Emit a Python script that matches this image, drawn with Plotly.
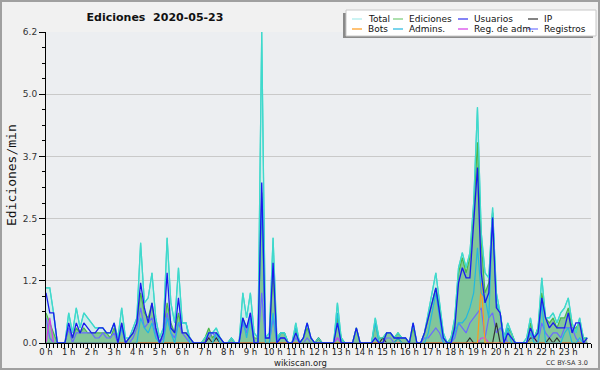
import plotly.graph_objects as go

# ---------------- data (10-minute slots, edits per minute) ----------------
slot_hours = [i / 6 for i in range(144)]

total = [
    1.1, 1.1, 0.6, 0.0, 0.0, 0.0,
    0.6, 0.2, 0.7, 0.3, 0.6, 0.5,
    0.4, 0.3, 0.3, 0.3, 0.2, 0.2,
    0.4, 0.1, 0.7, 0.1, 0.1, 0.3,
    0.5, 2.0, 0.8, 0.9, 1.4, 0.5,
    0.1, 0.3, 2.1, 0.8, 0.4, 1.5,
    0.4, 0.4, 0.1, 0.0, 0.0, 0.0,
    0.1, 0.2, 0.2, 0.3, 0.1, 0.0,
    0.0, 0.1, 0.0, 0.0, 1.0, 0.5,
    1.0, 0.2, 0.1, 6.2, 0.1, 0.2,
    2.1, 0.1, 0.2, 0.2, 0.0, 0.0,
    0.4, 0.0, 0.1, 0.4, 0.1, 0.0,
    0.1, 0.0, 0.0, 0.0, 0.0, 0.8,
    0.1, 0.0, 0.0, 0.0, 0.3, 0.0,
    0.0, 0.0, 0.0, 0.5, 0.1, 0.1,
    0.2, 0.2, 0.1, 0.2, 0.1, 0.1,
    0.0, 0.4, 0.0, 0.0, 0.2, 0.6,
    1.0, 1.4, 0.8, 0.2, 0.0, 0.1,
    0.5, 1.5, 1.8, 1.5, 1.8, 2.8,
    4.7, 2.2, 1.4, 1.3, 2.7, 1.0,
    0.6, 0.1, 0.4, 0.2, 0.0, 0.0,
    0.0, 0.1, 0.5, 0.1, 0.3, 1.3,
    0.5, 0.5, 0.6, 0.4, 0.6, 0.7,
    0.9, 0.4, 0.2, 0.5, 0.1, 0.1,
]

ediciones = [
    0.6, 0.4, 0.2, 0.0, 0.0, 0.0,
    0.3, 0.1, 0.3, 0.2, 0.3, 0.2,
    0.2, 0.2, 0.2, 0.2, 0.2, 0.1,
    0.3, 0.0, 0.4, 0.0, 0.1, 0.2,
    0.4, 1.0, 0.6, 0.5, 0.8, 0.3,
    0.0, 0.2, 0.8, 0.4, 0.2, 0.6,
    0.2, 0.2, 0.1, 0.0, 0.0, 0.0,
    0.1, 0.3, 0.1, 0.2, 0.1, 0.0,
    0.0, 0.1, 0.0, 0.0, 0.5, 0.3,
    0.5, 0.1, 0.1, 3.0, 0.1, 0.1,
    1.4, 0.1, 0.2, 0.2, 0.0, 0.0,
    0.3, 0.0, 0.1, 0.3, 0.1, 0.0,
    0.1, 0.0, 0.0, 0.0, 0.0, 0.5,
    0.1, 0.0, 0.0, 0.0, 0.3, 0.0,
    0.0, 0.0, 0.0, 0.4, 0.1, 0.1,
    0.2, 0.2, 0.1, 0.2, 0.1, 0.1,
    0.0, 0.3, 0.0, 0.0, 0.2, 0.5,
    0.8, 1.1, 0.7, 0.1, 0.0, 0.1,
    0.4, 1.4, 1.7, 1.4, 1.7, 2.6,
    4.0, 2.0, 1.0, 1.2, 2.6, 0.8,
    0.6, 0.1, 0.3, 0.2, 0.0, 0.0,
    0.0, 0.0, 0.4, 0.1, 0.3, 1.0,
    0.5, 0.4, 0.5, 0.3, 0.5, 0.5,
    0.7, 0.3, 0.3, 0.4, 0.1, 0.1,
]

usuarios = [
    1.0, 0.6, 0.6, 0.0, 0.0, 0.0,
    0.4, 0.1, 0.4, 0.2, 0.4, 0.3,
    0.2, 0.2, 0.3, 0.3, 0.2, 0.2,
    0.4, 0.0, 0.4, 0.0, 0.1, 0.2,
    0.4, 1.2, 0.7, 0.4, 0.8, 0.3,
    0.0, 0.2, 1.4, 0.3, 0.2, 0.9,
    0.2, 0.2, 0.1, 0.0, 0.0, 0.0,
    0.0, 0.2, 0.2, 0.2, 0.1, 0.0,
    0.0, 0.0, 0.0, 0.0, 0.5, 0.3,
    0.6, 0.0, 0.0, 3.2, 0.1, 0.1,
    1.6, 0.0, 0.1, 0.1, 0.0, 0.0,
    0.2, 0.0, 0.1, 0.4, 0.1, 0.0,
    0.0, 0.0, 0.0, 0.0, 0.0, 0.4,
    0.0, 0.0, 0.0, 0.0, 0.3, 0.0,
    0.0, 0.0, 0.0, 0.1, 0.0, 0.0,
    0.2, 0.2, 0.1, 0.1, 0.1, 0.1,
    0.0, 0.4, 0.0, 0.0, 0.2, 0.5,
    0.8, 1.1, 0.6, 0.1, 0.0, 0.0,
    0.3, 1.2, 1.5, 1.3, 1.3, 2.4,
    3.5, 1.4, 0.8, 1.0, 2.5, 0.7,
    0.6, 0.0, 0.2, 0.1, 0.0, 0.0,
    0.0, 0.0, 0.3, 0.1, 0.2, 0.9,
    0.5, 0.3, 0.4, 0.3, 0.3, 0.3,
    0.6, 0.2, 0.4, 0.4, 0.0, 0.1,
]

admins = [
    0.0, 0.0, 0.0, 0.0, 0.0, 0.0,
    0.0, 0.0, 0.0, 0.0, 0.0, 0.0,
    0.0, 0.0, 0.0, 0.0, 0.0, 0.0,
    0.0, 0.0, 0.3, 0.0, 0.0, 0.0,
    0.0, 0.5, 0.3, 0.2, 0.4, 0.1,
    0.0, 0.0, 0.5, 0.2, 0.0, 0.4,
    0.4, 0.4, 0.0, 0.0, 0.0, 0.0,
    0.0, 0.0, 0.0, 0.2, 0.0, 0.0,
    0.0, 0.1, 0.0, 0.0, 0.5, 0.1,
    0.5, 0.0, 0.0, 2.9, 0.0, 0.0,
    0.6, 0.0, 0.2, 0.2, 0.0, 0.0,
    0.3, 0.0, 0.0, 0.0, 0.0, 0.0,
    0.0, 0.0, 0.0, 0.0, 0.0, 0.6,
    0.0, 0.0, 0.0, 0.0, 0.0, 0.0,
    0.0, 0.0, 0.0, 0.4, 0.0, 0.0,
    0.0, 0.0, 0.0, 0.1, 0.0, 0.0,
    0.0, 0.0, 0.0, 0.0, 0.0, 0.2,
    0.6, 1.0, 0.5, 0.0, 0.0, 0.0,
    0.2, 0.4, 0.4, 0.5, 0.7, 1.0,
    1.9, 1.0, 0.9, 0.5, 2.6, 0.8,
    0.6, 0.0, 0.3, 0.0, 0.0, 0.0,
    0.0, 0.0, 0.2, 0.0, 0.0, 0.8,
    0.0, 0.0, 0.0, 0.0, 0.0, 0.2,
    0.3, 0.0, 0.0, 0.1, 0.0, 0.0,
]

registros = [
    0.5, 0.1, 0.0, 0.0, 0.0, 0.0,
    0.3, 0.0, 0.2, 0.2, 0.2, 0.2,
    0.2, 0.1, 0.1, 0.2, 0.1, 0.1,
    0.2, 0.0, 0.3, 0.0, 0.0, 0.1,
    0.3, 0.7, 0.3, 0.4, 0.5, 0.2,
    0.0, 0.1, 0.6, 0.2, 0.1, 0.4,
    0.2, 0.1, 0.0, 0.0, 0.0, 0.0,
    0.0, 0.1, 0.2, 0.1, 0.0, 0.0,
    0.0, 0.0, 0.0, 0.0, 0.4, 0.2,
    0.6, 0.0, 0.0, 1.0, 0.0, 0.0,
    0.5, 0.0, 0.1, 0.1, 0.0, 0.0,
    0.1, 0.0, 0.0, 0.1, 0.0, 0.0,
    0.0, 0.0, 0.0, 0.0, 0.0, 0.1,
    0.0, 0.0, 0.0, 0.0, 0.0, 0.0,
    0.0, 0.0, 0.0, 0.1, 0.0, 0.0,
    0.1, 0.1, 0.0, 0.0, 0.0, 0.0,
    0.0, 0.0, 0.0, 0.0, 0.1, 0.1,
    0.2, 0.3, 0.2, 0.0, 0.0, 0.0,
    0.1, 0.4, 0.3, 0.2, 0.4, 0.5,
    0.6, 0.7, 0.1, 0.5, 0.6, 0.2,
    0.3, 0.2, 0.0, 0.0, 0.0, 0.0,
    0.0, 0.0, 0.2, 0.1, 0.0, 0.4,
    0.2, 0.1, 0.2, 0.2, 0.1, 0.3,
    0.3, 0.3, 0.1, 0.0, 0.0, 0.0,
]

ip = [0.0] * 144
for k, v in {43: 0.1, 45: 0.1, 72: 0.1, 89: 0.1, 93: 0.1, 112: 0.1,
             119: 0.4, 128: 0.1, 129: 0.1, 133: 0.1, 135: 0.1}.items():
    ip[k] = v

bots = [0.0] * 144
for k, v in {115: 1.2}.items():
    bots[k] = v

reg_adm = [0.0] * 144
for k, v in {1: 0.5, 77: 0.1, 115: 0.1, 116: 0.1, 128: 0.1, 129: 0.1}.items():
    reg_adm[k] = v

hour_labels = [f"{h} h" for h in range(24)]
y_tick_values = [0, 1.24, 2.48, 3.72, 4.96, 6.2]
y_tick_labels = ["0.0", "1.2", "2.5", "3.7", "5.0", "6.2"]

# ---------------- figure ----------------
W, H = 600, 370
L, R, T, B = 46, 9, 32, 27
PW, PH = W - L - R, H - T - B


def fx(px):
    return (px - L) / PW


def fy(py):
    return (H - B - py) / PH


C_TOTAL = "#3fd9cc"
C_EDIC = "#4cb84c"
C_USU = "#1a1aee"
C_IP = "#333333"
C_BOTS = "#ff9a1a"
C_ADM = "#22b8e0"
C_REGADM = "#d63ce8"
C_REG = "#6a6aff"

fig = go.Figure()
fig.add_trace(go.Scatter(x=slot_hours, y=total, name="Total", mode="lines",
                         line=dict(color=C_TOTAL, width=1.2), fill="tozeroy",
                         fillcolor="rgba(64,224,208,0.16)", showlegend=False))
fig.add_trace(go.Scatter(x=slot_hours, y=ediciones, name="Ediciones", mode="lines",
                         line=dict(color=C_EDIC, width=1.2), fill="tozeroy",
                         fillcolor="rgba(60,165,80,0.52)", showlegend=False))
fig.add_trace(go.Scatter(x=slot_hours, y=registros, name="Registros", mode="lines",
                         line=dict(color=C_REG, width=1.2), showlegend=False))
fig.add_trace(go.Scatter(x=slot_hours, y=reg_adm, name="Reg. de adm.", mode="lines",
                         line=dict(color=C_REGADM, width=1.2), showlegend=False))
fig.add_trace(go.Scatter(x=slot_hours, y=ip, name="IP", mode="lines",
                         line=dict(color=C_IP, width=1.2), showlegend=False))
fig.add_trace(go.Scatter(x=slot_hours, y=bots, name="Bots", mode="lines",
                         line=dict(color=C_BOTS, width=1.2), showlegend=False))
fig.add_trace(go.Scatter(x=slot_hours, y=admins, name="Admins.", mode="lines",
                         line=dict(color=C_ADM, width=1.2), showlegend=False))
fig.add_trace(go.Scatter(x=slot_hours, y=total, name="Total", mode="lines",
                         line=dict(color=C_TOTAL, width=1.2), showlegend=False,
                         hoverinfo="skip"))
fig.add_trace(go.Scatter(x=slot_hours, y=usuarios, name="Usuarios", mode="lines",
                         line=dict(color=C_USU, width=1.3), showlegend=False))

shapes = []
annotations = []

# outer frame
shapes.append(dict(type="rect", xref="paper", yref="paper",
                   x0=fx(1), x1=fx(599), y0=fy(369), y1=fy(1),
                   line=dict(color="#a0a0a0", width=2), layer="below"))

# legend box with shadow
shapes.append(dict(type="rect", xref="paper", yref="paper",
                   x0=fx(343), x1=fx(593), y0=fy(38), y1=fy(13),
                   line=dict(width=0), fillcolor="#8a8a8a"))
shapes.append(dict(type="rect", xref="paper", yref="paper",
                   x0=fx(346), x1=fx(596), y0=fy(36), y1=fy(10),
                   line=dict(color="#c8c8c8", width=1), fillcolor="white"))

legend_items = [
    ("Total", "#a8ecec", 352, 19), ("Ediciones", "#77cc77", 393, 19),
    ("Usuarios", "#3333ee", 458, 19), ("IP", "#333333", 528, 19),
    ("Bots", C_BOTS, 352, 29), ("Admins.", C_ADM, 393, 29),
    ("Reg. de adm.", C_REGADM, 458, 29), ("Registros", "#7777ff", 528, 29),
]
for name, col, x0, yy in legend_items:
    shapes.append(dict(type="line", xref="paper", yref="paper",
                       x0=fx(x0), x1=fx(x0 + 10), y0=fy(yy), y1=fy(yy),
                       line=dict(color=col, width=1.2)))
    annotations.append(dict(text=name, xref="paper", yref="paper",
                            x=fx(x0 + 14), y=fy(yy), xanchor="left", yanchor="middle",
                            showarrow=False,
                            font=dict(family="DejaVu Sans", size=9, color="#111")))

# axis title
annotations.append(dict(text="Ediciones/min", xref="paper", yref="paper",
                        x=fx(11), y=fy(175), textangle=-90, showarrow=False,
                        xanchor="center", yanchor="middle",
                        font=dict(family="DejaVu Sans Mono", size=13, color="#111")))
annotations.append(dict(text="wikiscan.org", xref="paper", yref="paper",
                        x=fx(300), y=fy(363), showarrow=False,
                        xanchor="center", yanchor="middle",
                        font=dict(family="DejaVu Sans", size=8.5, color="#222")))
annotations.append(dict(text="CC BY-SA 3.0", xref="paper", yref="paper",
                        x=fx(590), y=fy(363), showarrow=False,
                        xanchor="right", yanchor="middle",
                        font=dict(family="DejaVu Sans", size=6.5, color="#333")))

fig.update_layout(
    width=W, height=H,
    margin=dict(l=L, r=R, t=T, b=B, pad=0, autoexpand=False),
    paper_bgcolor="#f1f1f1",
    plot_bgcolor="#eceef1",
    showlegend=False,
    title=dict(text="<b>Ediciones  2020-05-23</b>", xref="container", yref="container",
               x=155 / W, y=1 - 17 / H, xanchor="center", yanchor="middle",
               font=dict(family="DejaVu Sans", size=11, color="#111")),
    shapes=shapes,
    annotations=annotations,
    xaxis=dict(
        range=[0, 24], showgrid=False, zeroline=False, automargin=False,
        showline=True, linecolor="black", linewidth=1,
        tickmode="array", tickvals=list(range(24)), ticktext=hour_labels,
        ticks="outside", ticklen=4, tickcolor="black", tickwidth=1,
        ticklabelstandoff=-3,
        tickfont=dict(family="DejaVu Sans", size=8.5, color="#222"),
        minor=dict(tickmode="array", tickvals=[i / 6 for i in range(145)],
                   ticks="outside", ticklen=4, tickcolor="black", tickwidth=1,
                   showgrid=False),
    ),
    yaxis=dict(
        range=[0, 6.2], showgrid=True, gridcolor="#c9c9c9", gridwidth=1,
        zeroline=False, showline=True, linecolor="black", linewidth=1, automargin=False,
        tickmode="array", tickvals=y_tick_values, ticktext=y_tick_labels,
        ticks="outside", ticklen=6, tickcolor="black", tickwidth=1,
        tickfont=dict(family="DejaVu Sans", size=9, color="#333"),
        minor=dict(tickmode="array", tickvals=[k * 0.31 for k in range(21)],
                   ticks="outside", ticklen=3, tickcolor="black", showgrid=False),
    ),
)

fig.write_html("out.html", config={"displayModeBar": False},
               post_script="document.body.style.margin='0';"
                           "document.body.style.overflow='hidden';")
